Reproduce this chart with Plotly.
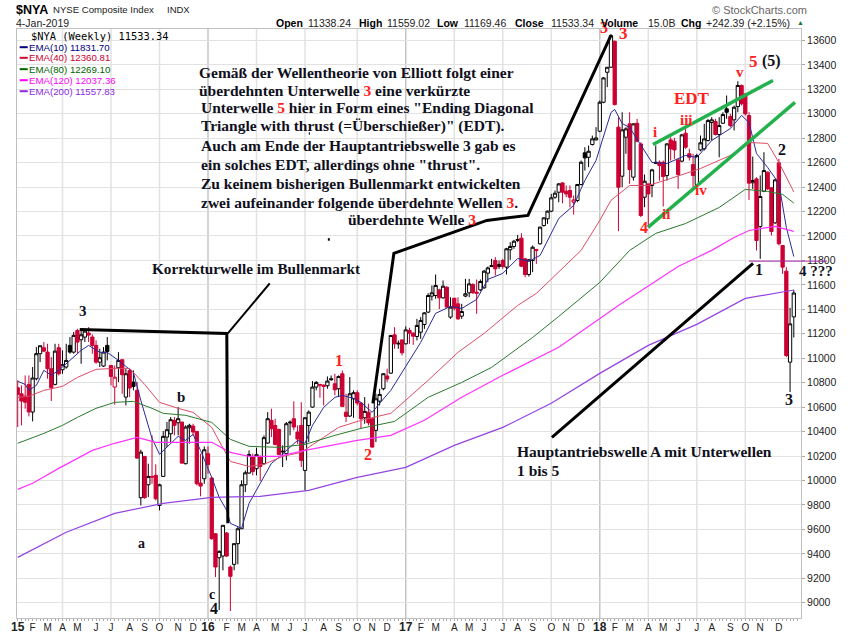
import pandas as pd
import plotly.graph_objects as go

# weekly bars
weeks = pd.date_range('2015-01-09', periods=209, freq='7D')

open_prices = [
    10759, 10709, 10690, 10786, 10560, 10832, 11037, 11086, 11050, 10914,
    10786, 11086, 10906, 10928, 11105, 11050, 11227, 11151, 11173, 11206,
    11173, 11105, 10968, 10936, 11105, 10941, 10764, 10922, 10988, 10682,
    10900, 10805, 10737, 9859, 10197, 9965, 10033, 10042, 9796, 10033,
    10355, 10382, 10491, 10472, 10478, 10137, 10431, 10445, 10401, 9979,
    10014, 10219, 10020, 9564, 9368, 9382, 9570, 9292, 9314, 9483,
    9605, 9965, 10061, 10191, 10096, 10191, 10137, 10306, 10491, 10450,
    10418, 10240, 10219, 10478, 10505, 10396, 10450, 10082, 10450, 10600,
    10764, 10786, 10780, 10775, 10832, 10791, 10750, 10873, 10559, 10527,
    10668, 10718, 10633, 10513, 10559, 10505, 10410, 10649, 10750, 10855,
    10878, 11191, 11123, 11150, 11118, 11227, 11205, 11178, 11213, 11276,
    11377, 11508, 11513, 11559, 11494, 11581, 11336, 11491, 11445, 11344,
    11508, 11535, 11603, 11540, 11559, 11576, 11696, 11750, 11799, 11750,
    11799, 11745, 11887, 11914, 11971, 11982, 11813, 11685, 11799, 11889,
    11936, 12085, 12140, 12203, 12317, 12358, 12434, 12366, 12372, 12276,
    12290, 12421, 12680, 12644, 12748, 12786, 12857, 13094, 13339, 13380,
    13593, 12890, 12489, 12808, 12917, 12481, 12922, 12753, 12317, 12426,
    12413, 12603, 12603, 12603, 12494, 12786, 12775, 12622, 12612, 12841,
    12672, 12584, 12421, 12704, 12713, 12781, 12928, 12936, 12830, 12922,
    13040, 12977, 12950, 13059, 13231, 13162, 12985, 12435, 12467, 12077,
    12366, 12522, 12394, 12107, 12598, 11922, 11712, 10968, 11338.24,
]
high_prices = [
    10819, 10778, 10859, 10859, 10928, 11091, 11102, 11132, 11118, 11009,
    11118, 11118, 11064, 11118, 11173, 11214, 11241, 11241, 11241, 11255,
    11195, 11146, 11077, 11091, 11173, 10941, 10941, 11050, 10988, 10914,
    10914, 10900, 10805, 10251, 10197, 10137, 10369, 10132, 9973, 10404,
    10478, 10519, 10519, 10600, 10478, 10451, 10464, 10464, 10401, 10219,
    10279, 10279, 10028, 9570, 9428, 9633, 9578, 9305, 9483, 9619,
    10001, 10082, 10246, 10219, 10268, 10205, 10369, 10559, 10587, 10505,
    10423, 10287, 10478, 10491, 10647, 10450, 10641, 10519, 10573, 10813,
    10813, 10786, 10786, 10851, 10859, 10873, 10859, 10900, 10709, 10846,
    10737, 10737, 10641, 10682, 10628, 10505, 10709, 10750, 10878, 10914,
    11191, 11254, 11145, 11150, 11260, 11249, 11213, 11322, 11336, 11377,
    11532, 11595, 11685, 11568, 11636, 11589, 11499, 11491, 11499, 11445,
    11649, 11649, 11614, 11644, 11644, 11723, 11750, 11813, 11827, 11799,
    11813, 11903, 11949, 11968, 12009, 12023, 11821, 11813, 11922, 11895,
    12077, 12154, 12208, 12344, 12372, 12432, 12440, 12413, 12413, 12331,
    12426, 12617, 12726, 12740, 12821, 12890, 13108, 13299, 13380, 13653,
    13598, 12971, 13012, 12890, 13012, 12922, 12958, 12767, 12503, 12426,
    12549, 12740, 12617, 12617, 12759, 12808, 12802, 12631, 12835, 12876,
    12713, 12672, 12672, 12822, 12917, 12958, 12972, 12958, 12972, 13012,
    13149, 12999, 13067, 13266, 13239, 13162, 13012, 12650, 12481, 12495,
    12685, 12527, 12399, 12467, 12631, 11927, 11745, 11412, 11559.02,
]
low_prices = [
    10437, 10451, 10587, 10524, 10483, 10819, 10968, 11050, 10832, 10650,
    10778, 10859, 10873, 10914, 11037, 11037, 11037, 10955, 11132, 11132,
    11037, 10955, 10928, 10928, 10982, 10778, 10620, 10805, 10709, 10614,
    10682, 10737, 10178, 9796, 9851, 9864, 9973, 9837, 9755, 10028,
    10273, 10314, 10369, 10369, 10137, 10132, 10301, 10369, 9960, 9870,
    9973, 10055, 9515, 9210, 8940, 9265, 9374, 8932, 9265, 9314,
    9605, 9905, 10055, 10042, 10042, 9995, 10131, 10300, 10355, 10287,
    10205, 10110, 10164, 10369, 10410, 10300, 10110, 9919, 10314, 10595,
    10737, 10677, 10614, 10750, 10818, 10696, 10682, 10600, 10478, 10519,
    10513, 10614, 10423, 10464, 10450, 10268, 10314, 10614, 10737, 10805,
    10872, 11077, 11077, 11022, 11112, 11118, 11110, 11145, 11159, 11240,
    11369, 11472, 11486, 11401, 11486, 11412, 11322, 11390, 11314, 11322,
    11499, 11499, 11527, 11363, 11549, 11568, 11622, 11745, 11677, 11731,
    11731, 11685, 11805, 11895, 11949, 11745, 11663, 11668, 11704, 11772,
    11930, 12077, 12099, 12195, 12304, 12276, 12268, 12317, 12235, 12175,
    12276, 12413, 12535, 12563, 12740, 12781, 12849, 13086, 13217, 13375,
    13067, 12039, 12399, 12672, 12426, 12453, 12767, 12154, 12235, 12072,
    12317, 12590, 12453, 12241, 12453, 12617, 12631, 12385, 12603, 12712,
    12617, 12399, 12405, 12693, 12699, 12773, 12781, 12822, 12644, 12917,
    12958, 12890, 12863, 13012, 13067, 12985, 12295, 12385, 11881, 11813,
    12358, 12377, 12004, 12099, 11922, 11690, 11009, 10723, 11169.46,
]
close_prices = [
    10704, 10650, 10640, 10560, 10838, 11037, 11102, 11058, 10914, 10759,
    11058, 10873, 10947, 10982, 11050, 11187, 11132, 11192, 11222, 11189,
    11105, 10968, 11004, 11050, 11055, 10851, 10845, 10982, 10865, 10873,
    10756, 10769, 10183, 10232, 9859, 10033, 10028, 9851, 9965, 10361,
    10415, 10497, 10451, 10505, 10142, 10437, 10451, 10396, 9973, 9954,
    10251, 10131, 9524, 9292, 9420, 9633, 9382, 9216, 9483, 9605,
    9965, 10063, 10213, 10074, 10211, 10115, 10350, 10505, 10423, 10295,
    10213, 10235, 10464, 10472, 10437, 10339, 10164, 10513, 10559, 10764,
    10802, 10780, 10769, 10813, 10824, 10742, 10851, 10606, 10524, 10709,
    10718, 10633, 10505, 10565, 10472, 10273, 10668, 10704, 10873, 10830,
    11186, 11118, 11118, 11044, 11232, 11205, 11180, 11268, 11309, 11371,
    11513, 11535, 11595, 11494, 11589, 11418, 11418, 11409, 11322, 11382,
    11527, 11608, 11535, 11532, 11628, 11712, 11739, 11758, 11731, 11767,
    11750, 11895, 11914, 11957, 11966, 11753, 11685, 11805, 11908, 11881,
    12072, 12148, 12203, 12312, 12350, 12426, 12358, 12344, 12317, 12295,
    12421, 12603, 12639, 12693, 12794, 12802, 13094, 13293, 13380, 13639,
    13075, 12399, 12868, 12876, 12543, 12917, 12775, 12167, 12448, 12344,
    12541, 12595, 12576, 12486, 12753, 12712, 12704, 12503, 12827, 12726,
    12644, 12495, 12658, 12762, 12794, 12944, 12950, 12830, 12903, 12993,
    13012, 12903, 13053, 13231, 13081, 12999, 12432, 12454, 11963, 12323,
    12535, 12386, 12037, 12459, 11936, 11745, 11022, 11281, 11533.34,
]

# moving averages, read at the weeks listed
ema10_weeks = [0, 2, 3, 5, 7, 9, 11, 14, 17, 19, 22, 24, 27, 31, 33, 36, 38, 43, 45, 47, 49, 52, 54, 56, 57, 60, 62, 65,
               68, 70, 72, 75, 77, 79, 82, 85, 87, 90, 92, 95, 97, 100, 104, 108, 112, 116, 119, 123, 126, 130, 134,
               137, 140, 143, 145, 149, 152, 155, 157, 159, 160, 162, 164, 167, 170, 174, 177, 179, 182, 186, 191,
               194, 196, 198, 201, 204, 206, 208]
ema10 = [10811, 10786, 10737, 10778, 10901, 10860, 10901, 10982, 11064, 11105, 11048, 11048, 10982, 10884, 10655, 10344,
         10214, 10361, 10328, 10377, 10246, 10025, 9862, 9756, 9649, 9609, 9813, 9977, 10140, 10189, 10246, 10328,
         10304, 10451, 10598, 10680, 10696, 10672, 10639, 10557, 10631, 10737, 10933, 11129, 11367, 11424, 11407,
         11481, 11645, 11694, 11816, 11792, 11841, 12029, 12143, 12250, 12454, 12618, 12822, 13010, 13035, 12920,
         12887, 12740, 12601, 12593, 12634, 12659, 12642, 12781, 12879, 12986, 12928, 12675, 12560, 12430, 12070,
         11831.70]

ema40_weeks = [0, 3, 7, 12, 16, 21, 26, 30, 34, 38, 43, 47, 52, 57, 62, 66, 71, 76, 82, 86, 92, 100, 110, 118, 125, 134,
               139, 145, 151, 156, 159, 164, 169, 175, 183, 191, 196, 201, 204, 208]
ema40 = [10680, 10688, 10737, 10770, 10843, 10909, 10917, 10917, 10786, 10639, 10590, 10557, 10434, 10156, 10115, 10132,
         10197, 10230, 10353, 10434, 10492, 10549, 10819, 11048, 11203, 11432, 11530, 11710, 11882, 12127, 12291,
         12413, 12413, 12470, 12552, 12659, 12765, 12757, 12601, 12360.81]

ema80_weeks = [0, 3, 7, 12, 16, 21, 26, 31, 36, 39, 45, 52, 57, 62, 70, 77, 85, 92, 101, 110, 119, 127, 138, 145, 156,
               164, 171, 179, 188, 195, 201, 205, 208]
ema80 = [10304, 10336, 10385, 10451, 10516, 10590, 10639, 10647, 10590, 10549, 10533, 10475, 10336, 10279, 10271, 10295,
         10369, 10426, 10483, 10680, 10802, 10925, 11170, 11342, 11620, 11882, 12021, 12102, 12233, 12381, 12364,
         12340, 12269.10]

ema120_weeks = [0, 4, 11, 20, 26, 32, 37, 52, 57, 62, 70, 77, 91, 100, 109, 119, 130, 145, 161, 177, 186, 192, 196, 203,
                208]
ema120 = [9927, 9977, 10099, 10246, 10304, 10353, 10312, 10312, 10230, 10197, 10197, 10246, 10328, 10369, 10492, 10680,
          10860, 11089, 11432, 11751, 11882, 11988, 12045, 12078, 12037.36]

ema200_weeks = [0, 13, 26, 39, 52, 65, 78, 91, 104, 117, 130, 143, 156, 169, 182, 195, 208]
ema200 = [9371, 9576, 9731, 9813, 9862, 9870, 9919, 10025, 10107, 10287, 10434, 10631, 10876, 11105, 11277, 11489,
          11557.83]

month_letters = ['J', 'F', 'M', 'A', 'M', 'J', 'J', 'A', 'S', 'O', 'N', 'D']
y_ticks = list(range(9000, 13800, 200))

# plot area in page pixels
LEFT, RIGHT, TOP, BOTTOM = 17.3, 801.0, 28.5, 617.7
RED = '#cc0033'
SERIF = 'Liberation Serif'
SANS = 'Liberation Sans'


def px(x):
    return (x - LEFT) / (RIGHT - LEFT)


def py(y):
    return (BOTTOM - y) / (BOTTOM - TOP)


def note(x, y, text, color='#10101c', size=15.5, font=SERIF, anchor='left'):
    return dict(xref='paper', yref='paper', x=px(x), y=py(y), text=text, showarrow=False, xanchor=anchor,
                yanchor='middle', align='left', borderpad=0, borderwidth=0,
                font=dict(family=font, size=size, color=color))


def stroke(points, color='black', width=3):
    path = 'M ' + ' L '.join(f'{px(x):.4f} {py(y):.4f}' for x, y in points)
    return dict(type='path', xref='paper', yref='paper', path=path, line=dict(color=color, width=width))


# month labels sit on the first bar of each month, grid only every quarter
first_bars = [d for k, d in enumerate(weeks) if k == 0 or d.month != weeks[k - 1].month]
label_bars = [d for d in first_bars if d.year < 2019]
tick_text = [f'<b style="font-size:12px">{str(d.year)[2:]}</b>' if d.month == 1 else month_letters[d.month - 1]
             for d in label_bars]
shapes = []
for d in label_bars:
    if d.month in (1, 4, 7, 10) and d != weeks[0]:
        shapes.append(dict(type='line', xref='x', yref='paper', x0=d, x1=d, y0=0, y1=1, layer='below',
                           line=dict(color='#c4c4c4' if d.month == 1 else '#e2e2e2', width=1.5)))

fig = go.Figure()

# black bars close above last week's close, red bars below it
prev_close = [close_prices[0] + 1] + close_prices[:-1]
down = [c < p for c, p in zip(close_prices, prev_close)]
for is_down, color, solid in [(False, 'black', 'black'), (True, RED, RED)]:
    idx = [k for k in range(len(weeks)) if down[k] == is_down]
    fig.add_trace(go.Candlestick(
        x=weeks[idx],
        open=[open_prices[k] for k in idx],
        high=[high_prices[k] for k in idx],
        low=[low_prices[k] for k in idx],
        close=[close_prices[k] for k in idx],
        whiskerwidth=0,
        increasing=dict(line=dict(color=color, width=1), fillcolor='white'),
        decreasing=dict(line=dict(color=color, width=1), fillcolor=solid),
        hoverinfo='skip',
        showlegend=False,
    ))

for name, idx, values, color, width in [
    ('EMA(10)', ema10_weeks, ema10, '#2a2a9a', 1),
    ('EMA(40)', ema40_weeks, ema40, '#dc4c68', 1),
    ('EMA(80)', ema80_weeks, ema80, '#2c7a2c', 1),
    ('EMA(120)', ema120_weeks, ema120, '#ff33ff', 1.2),
    ('EMA(200)', ema200_weeks, ema200, '#9444e4', 1.2),
]:
    fig.add_trace(go.Scatter(x=weeks[idx], y=values, mode='lines', name=name, showlegend=False,
                             line=dict(color=color, width=width), hoverinfo='skip'))

shapes += [
    stroke([(80, 329), (227, 333), (228, 523)]),
    stroke([(228, 333), (270, 283)], width=2),
    stroke([(373, 403), (394, 253), (487, 220), (528, 215), (611, 35)]),
    stroke([(552, 437), (753, 263)]),
    stroke([(653, 144), (773, 80)], color='#22b14c', width=3.5),
    stroke([(648, 227), (795, 102)], color='#22b14c', width=3.5),
    stroke([(749, 260.7), (827, 260.7)], color='#a020a0', width=1),
    stroke([(309, 133), (310, 133)], width=2.5),
    stroke([(328, 239), (330, 239)], width=2.5),
]

R3 = '<span style="color:#ff2020">3</span>'
R5 = '<span style="color:#ff2020">5</span>'
notes = [
    note(199, 72, '<b>Gemäß der Wellentheorie von Elliott folgt einer</b>'),
    note(199, 90, f'<b>überdehnten Unterwelle {R3} eine verkürzte</b>'),
    note(201, 107, f'<b>Unterwelle {R5} hier in Form eines "Ending Diagonal</b>'),
    note(201, 126, '<b>Triangle with thrust (=Überschießer)" (EDT).</b>'),
    note(201, 145, '<b>Auch am Ende der Hauptantriebswelle 3 gab es</b>'),
    note(201, 164, '<b>ein solches EDT, allerdings ohne "thrust".</b>'),
    note(201, 183, '<b>Zu keinem bisherigen Bullenmarkt entwickelten</b>'),
    note(201, 202, f'<b>zwei aufeinander folgende überdehnte Wellen {R3}.</b>'),
    note(348, 219, f'<b>überdehnte Welle {R3}</b>'),
    note(152, 268, '<b>Korrekturwelle im Bullenmarkt</b>', size=15.2),
    note(517, 451, '<b>Hauptantriebswelle A mit Unterwellen</b>'),
    note(517, 470, '<b>1 bis 5</b>'),
]
for x, y, text, size in [(339, 360, '1', 16), (368, 454, '2', 16), (624, 33, '3', 17), (604, 27, '3', 16),
                         (754, 61, '5', 17), (692, 98, 'EDT', 17), (655, 132, 'i', 15), (687, 120, 'iii', 15),
                         (740, 72, 'v', 15), (666, 214, 'ii', 15), (701, 190, 'iv', 15), (644, 227, '4', 16)]:
    notes.append(note(x, y, f'<b>{text}</b>', color='#ff2020', size=size, anchor='center'))
for x, y, text, size in [(83, 311, '3', 15), (181, 397, 'b', 15), (142, 543, 'a', 14), (212, 594, 'c', 14),
                         (214, 608, '4', 16), (782, 149, '2', 16), (759, 269, '1', 16), (816, 271, '4 ???', 15),
                         (789, 399, '3', 16), (772, 61, '(5)', 16)]:
    notes.append(note(x, y, f'<b>{text}</b>', size=size, anchor='center'))

# header rows
notes += [
    note(16, 9, '<b>$NYA</b>', color='black', size=12.5, font=SANS),
    note(53, 9, 'NYSE Composite Index', color='#222', size=9.6, font=SANS),
    note(167, 9, 'INDX', color='#222', size=9.5, font=SANS),
    note(16, 22, '4-Jan-2019', color='#222', size=10.5, font=SANS),
    note(712, 9, '© StockCharts.com', color='#666', size=11, font=SANS),
    note(797, 22, '▲', color='#1a7a2a', size=7, font=SANS),
]
for x, text, bold in [(276, 'Open', 1), (308, '11338.24', 0), (359, 'High', 1), (387, '11559.02', 0), (437, 'Low', 1),
                      (464, '11169.46', 0), (515, 'Close', 1), (551, '11533.34', 0), (601, 'Volume', 1),
                      (648, '15.0B', 0), (681, 'Chg', 1), (706, '+242.39 (+2.15%)', 0)]:
    notes.append(note(x, 22, f'<b>{text}</b>' if bold else text, color='black' if bold else '#222', size=10.5,
                      font=SANS))

# legend inside the plot
notes.append(note(31, 35.5, '$NYA (Weekly) 11533.34', color='black', size=10.4, font='DejaVu Sans Mono'))
for y, text, color in [(46.7, 'EMA(10) 11831.70', '#000080'), (57.3, 'EMA(40) 12360.81', '#cc0033'),
                       (68.7, 'EMA(80) 12269.10', '#006400'), (79.7, 'EMA(120) 12037.36', '#ff00ff'),
                       (90.7, 'EMA(200) 11557.83', '#8a2be2')]:
    notes.append(note(29.5, y, text, color=color, size=9.7, font=SANS))
    shapes.append(stroke([(20, y), (28, y)], color=color, width=2))

fig.update_layout(
    width=850,
    height=633,
    margin=dict(l=LEFT, r=850 - RIGHT, t=TOP, b=633 - BOTTOM, autoexpand=False),
    paper_bgcolor='white',
    plot_bgcolor='white',
    showlegend=False,
    boxgap=0,
    boxgroupgap=0.12,
    shapes=shapes,
    annotations=notes,
    xaxis=dict(
        type='date',
        rangeslider=dict(visible=False),
        range=['2015-01-07 16:00', '2019-01-17 12:00'],
        tickmode='array',
        tickvals=label_bars,
        ticktext=tick_text,
        tickangle=0,
        ticks='',
        showgrid=False,
        tickfont=dict(family=SANS, size=10, color='#222'),
        showline=True,
        linecolor='#c0c0c0',
        mirror=True,
        zeroline=False,
        minor=dict(ticks='outside', dtick=7 * 86400000, tick0='2015-01-09', ticklen=2, tickcolor='#aaa', showgrid=False),
    ),
    yaxis=dict(
        side='right',
        range=[8875, 13693],
        tickmode='array',
        tickvals=y_ticks,
        tickformat='d',
        ticks='outside',
        ticklen=3,
        tickcolor='#aaa',
        showgrid=True,
        gridcolor='#e2e2e2',
        gridwidth=1.3,
        tickfont=dict(family=SANS, size=10.5, color='#222'),
        showline=True,
        linecolor='#c0c0c0',
        mirror=True,
        zeroline=False,
    ),
)

fig.write_html('out.html', config=dict(displayModeBar=False), post_script="document.body.style.margin='0';")
